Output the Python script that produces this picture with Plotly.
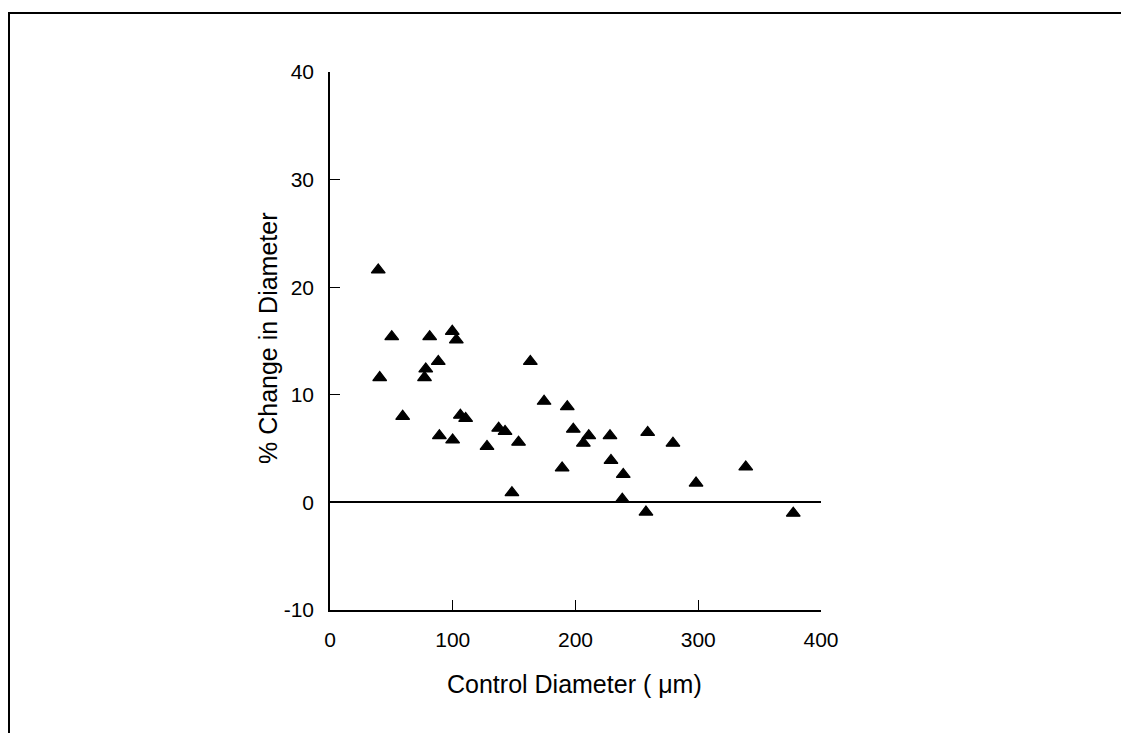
import plotly.graph_objects as go

control_diameter = [39.3, 50.3, 81.2, 99.6, 102.9, 88.2, 78.0, 77.0, 40.5, 163.2,
                    59.2, 106.2, 110.5, 174.4, 193.3, 89.1, 99.9, 137.4, 142.6, 127.9,
                    153.6, 189.1, 148.2, 198.2, 210.8, 206.4, 228.1, 258.8, 279.4, 228.9,
                    238.9, 298.2, 338.7, 238.1, 257.4, 377.4]
pct_change = [21.6, 15.4, 15.4, 15.9, 15.1, 13.1, 12.4, 11.6, 11.6, 13.1,
              8.0, 8.1, 7.8, 9.4, 8.9, 6.2, 5.8, 6.9, 6.6, 5.2,
              5.6, 3.2, 0.9, 6.8, 6.2, 5.5, 6.2, 6.5, 5.5, 3.9,
              2.6, 1.8, 3.3, 0.3, -0.9, -1.0]

x_ticks = [0, 100, 200, 300, 400]
y_ticks = [-10, 0, 10, 20, 30, 40]
x_title = "Control Diameter ( μm)"
y_title = "% Change in Diameter"

FONT = "Liberation Sans, Arial, sans-serif"

# page is offset by the browser's 8px body margin
W, H = 1121, 725
L, T = 322, 64
pw, ph = 491, 538
R, B = W - L - pw, H - T - ph

def px(xp):
    return (xp - L) / pw

def py(yp):
    return (H - B - yp) / ph

fig = go.Figure()
fig.add_trace(go.Scatter(
    x=control_diameter, y=pct_change, mode="markers",
    marker=dict(symbol="triangle-up", size=12, color="black",
                line=dict(color="black", width=1.2)),
    showlegend=False, hoverinfo="x+y",
))

fig.update_layout(
    width=W, height=H,
    margin=dict(l=L, r=R, t=T, b=B, autoexpand=False),
    paper_bgcolor="white", plot_bgcolor="white",
    font=dict(family=FONT, size=21, color="black"),
    xaxis=dict(
        range=[0, 400], tickvals=x_ticks, ticktext=[str(v) for v in x_ticks],
        showline=True, linecolor="black", linewidth=1.5,
        ticks="inside", ticklen=10, tickwidth=1.2, tickcolor="black",
        showgrid=False, zeroline=False, ticklabelstandoff=10,
        tickfont=dict(family=FONT, size=21, color="black"),
    ),
    yaxis=dict(
        range=[-10, 40], tickvals=y_ticks, ticktext=[str(v) for v in y_ticks],
        showline=True, linecolor="black", linewidth=1.5,
        ticks="inside", ticklen=10, tickwidth=1.2, tickcolor="black",
        showgrid=False, zeroline=True, zerolinecolor="black", zerolinewidth=1.5,
        ticklabelstandoff=10,
        tickfont=dict(family=FONT, size=21, color="black"),
    ),
    annotations=[
        dict(text=x_title, xref="paper", yref="paper",
             x=px(566), y=py(676), xanchor="center", yanchor="middle",
             showarrow=False, font=dict(family=FONT, size=25, color="black")),
        dict(text=y_title, xref="paper", yref="paper", textangle=-90,
             x=px(260), y=py(330), xanchor="center", yanchor="middle",
             showarrow=False, font=dict(family=FONT, size=25, color="black")),
    ],
    shapes=[
        dict(type="line", xref="paper", yref="paper",
             x0=px(0), x1=px(W), y0=py(5), y1=py(5),
             line=dict(color="black", width=2)),
        dict(type="line", xref="paper", yref="paper",
             x0=px(1), x1=px(1), y0=py(5), y1=py(H),
             line=dict(color="black", width=2)),
    ],
)

fig.write_html("out.html")
